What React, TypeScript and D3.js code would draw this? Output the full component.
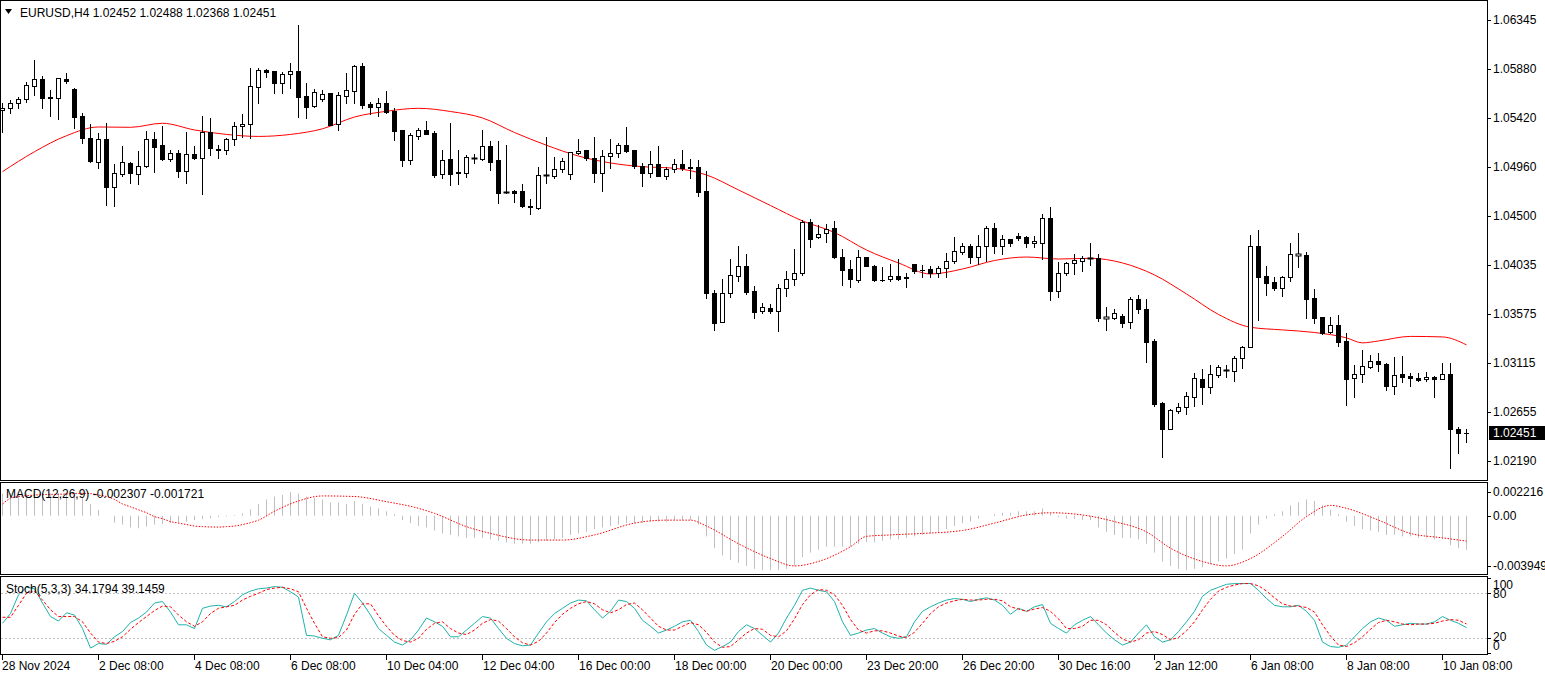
import React from "react";
import * as d3 from "d3";

const OPEN = [1.05497,1.05516,1.05563,1.05600,1.05723,1.05789,1.05619,1.05610,1.05789,1.05695,1.05440,1.05234,1.05007,1.05224,1.04772,1.04894,1.04998,1.04894,1.04969,1.05224,1.05168,1.05035,1.05092,1.04923,1.05082,1.05045,1.05290,1.05130,1.05120,1.05224,1.05346,1.05365,1.05714,1.05874,1.05865,1.05752,1.05836,1.05865,1.05628,1.05534,1.05600,1.05657,1.05365,1.05628,1.05676,1.05911,1.05553,1.05525,1.05563,1.05488,1.05309,1.05026,1.05252,1.05309,1.05281,1.04894,1.05035,1.04913,1.04904,1.05045,1.05035,1.05158,1.05026,1.04721,1.04735,1.04735,1.04592,1.04574,1.04880,1.04875,1.04941,1.04894,1.05092,1.05120,1.05045,1.04904,1.05063,1.05092,1.05168,1.05120,1.04969,1.04904,1.04988,1.04875,1.04941,1.04988,1.04957,1.04960,1.04735,1.03774,1.03500,1.03774,1.03933,1.04027,1.03793,1.03604,1.03636,1.03604,1.03821,1.03905,1.03962,1.04442,1.04301,1.04339,1.04386,1.04112,1.03999,1.03896,1.04112,1.04027,1.03900,1.03905,1.03933,1.03919,1.04046,1.03990,1.03999,1.03962,1.04008,1.04075,1.04159,1.04216,1.04112,1.04216,1.04386,1.04216,1.04282,1.04310,1.04301,1.04245,1.04245,1.04480,1.03793,1.03962,1.04056,1.04075,1.04098,1.04103,1.03538,1.03538,1.03557,1.03500,1.03717,1.03622,1.03321,1.02737,1.02492,1.02662,1.02699,1.02794,1.02963,1.02888,1.03001,1.03043,1.03039,1.03161,1.03265,1.04216,1.03933,1.03877,1.03821,1.03924,1.04135,1.04131,1.03727,1.03547,1.03406,1.03472,1.03321,1.02973,1.03010,1.03076,1.03133,1.03104,1.02898,1.03010,1.02992,1.02973,1.02963,1.02982,1.02963,1.03010,1.02492,1.02452];
const HIGH = [1.05563,1.05591,1.05619,1.05761,1.05968,1.05817,1.05685,1.05799,1.05846,1.05705,1.05469,1.05365,1.05281,1.05375,1.04988,1.05158,1.05007,1.05111,1.05300,1.05290,1.05346,1.05120,1.05120,1.05290,1.05158,1.05440,1.05422,1.05168,1.05234,1.05384,1.05459,1.05893,1.05893,1.05883,1.05865,1.05855,1.05940,1.06298,1.05752,1.05695,1.05685,1.05657,1.05666,1.05846,1.05921,1.05940,1.05572,1.05610,1.05676,1.05516,1.05309,1.05281,1.05328,1.05394,1.05300,1.05120,1.05375,1.05120,1.05073,1.05082,1.05309,1.05206,1.05206,1.05168,1.04744,1.04800,1.04659,1.04960,1.05243,1.05054,1.05045,1.05101,1.05224,1.05120,1.05243,1.05120,1.05224,1.05187,1.05337,1.05120,1.04998,1.05111,1.05158,1.04960,1.05035,1.05120,1.05035,1.05026,1.04923,1.03802,1.03905,1.04093,1.04216,1.04140,1.03839,1.03679,1.03670,1.03858,1.03981,1.04188,1.04461,1.04470,1.04414,1.04423,1.04452,1.04188,1.04084,1.04178,1.04115,1.04037,1.04018,1.04046,1.04093,1.03962,1.04046,1.04037,1.04027,1.04027,1.04150,1.04301,1.04245,1.04235,1.04320,1.04405,1.04433,1.04320,1.04282,1.04339,1.04310,1.04310,1.04517,1.04583,1.04065,1.04065,1.04140,1.04122,1.04245,1.04140,1.03641,1.03622,1.03576,1.03736,1.03755,1.03717,1.03340,1.02746,1.02680,1.02737,1.02841,1.03020,1.03057,1.03095,1.03095,1.03095,1.03180,1.03274,1.04320,1.04367,1.04027,1.03924,1.03933,1.04245,1.04339,1.04159,1.03811,1.03550,1.03547,1.03566,1.03397,1.03095,1.03236,1.03189,1.03208,1.03114,1.03170,1.03180,1.03020,1.03020,1.03029,1.02992,1.03114,1.03114,1.02511,1.02488];
const LOW = [1.05290,1.05469,1.05516,1.05572,1.05638,1.05516,1.05440,1.05412,1.05752,1.05328,1.05187,1.05007,1.04951,1.04602,1.04592,1.04875,1.04810,1.04800,1.04960,1.04913,1.05026,1.05017,1.04866,1.04810,1.05035,1.04706,1.05073,1.05045,1.05082,1.05168,1.05243,1.05234,1.05563,1.05808,1.05657,1.05657,1.05705,1.05431,1.05422,1.05525,1.05582,1.05356,1.05309,1.05563,1.05563,1.05516,1.05459,1.05440,1.05469,1.05215,1.04969,1.04988,1.05224,1.05271,1.04866,1.04857,1.04791,1.04800,1.04866,1.04998,1.05026,1.04932,1.04621,1.04716,1.04630,1.04583,1.04517,1.04565,1.04810,1.04857,1.04913,1.04847,1.05082,1.05026,1.04819,1.04735,1.04951,1.05054,1.05101,1.04951,1.04781,1.04866,1.04875,1.04847,1.04913,1.04932,1.04857,1.04687,1.03727,1.03425,1.03500,1.03736,1.03887,1.03764,1.03538,1.03585,1.03585,1.03415,1.03745,1.03849,1.03943,1.04207,1.04292,1.04254,1.04105,1.03849,1.03830,1.03877,1.04024,1.03887,1.03887,1.03887,1.03896,1.03830,1.03962,1.03924,1.03924,1.03924,1.03924,1.04056,1.04140,1.04056,1.04046,1.04075,1.04150,1.04140,1.04216,1.04273,1.04207,1.04207,1.04093,1.03707,1.03736,1.03943,1.03952,1.03980,1.04037,1.03510,1.03425,1.03528,1.03453,1.03444,1.03585,1.03123,1.02709,1.02228,1.02487,1.02643,1.02633,1.02709,1.02727,1.02832,1.02982,1.02982,1.02945,1.03067,1.03260,1.03519,1.03755,1.03802,1.03745,1.03887,1.04018,1.03538,1.03491,1.03387,1.03397,1.03274,1.02718,1.02794,1.02935,1.03067,1.03039,1.02860,1.02822,1.02935,1.02898,1.02945,1.02945,1.02794,1.02960,1.02125,1.02266,1.02368];
const CLOSE = [1.05516,1.05563,1.05600,1.05733,1.05789,1.05610,1.05610,1.05799,1.05771,1.05431,1.05234,1.05017,1.05224,1.04772,1.04904,1.05007,1.04904,1.04969,1.05224,1.05149,1.05035,1.05092,1.04923,1.05082,1.05045,1.05290,1.05140,1.05120,1.05224,1.05346,1.05365,1.05723,1.05874,1.05855,1.05752,1.05836,1.05865,1.05619,1.05525,1.05666,1.05647,1.05356,1.05638,1.05685,1.05911,1.05544,1.05525,1.05563,1.05478,1.05300,1.05026,1.05262,1.05309,1.05271,1.04885,1.05026,1.04894,1.04904,1.05054,1.05046,1.05158,1.05007,1.04716,1.04725,1.04716,1.04592,1.04583,1.04885,1.04885,1.04941,1.05017,1.05101,1.05111,1.05045,1.04904,1.05063,1.05092,1.05168,1.05111,1.04969,1.04904,1.04988,1.04875,1.04941,1.04988,1.04951,1.04952,1.04725,1.03774,1.03491,1.03774,1.03943,1.04027,1.03783,1.03594,1.03641,1.03607,1.03821,1.03905,1.03962,1.04442,1.04282,1.04329,1.04376,1.04112,1.03990,1.03905,1.04112,1.04027,1.03896,1.03896,1.03933,1.03905,1.03915,1.03980,1.03985,1.03962,1.04008,1.04075,1.04169,1.04216,1.04112,1.04216,1.04386,1.04216,1.04282,1.04245,1.04292,1.04245,1.04264,1.04480,1.03793,1.03962,1.04056,1.04084,1.04103,1.04100,1.03538,1.03543,1.03585,1.03491,1.03717,1.03622,1.03312,1.02727,1.02492,1.02671,1.02699,1.02803,1.02973,1.02888,1.03010,1.03076,1.03048,1.03161,1.03265,1.04216,1.03924,1.03868,1.03821,1.03924,1.04140,1.04142,1.03717,1.03538,1.03397,1.03472,1.03312,1.02963,1.03010,1.03085,1.03133,1.03104,1.02898,1.03001,1.02982,1.02973,1.02954,1.02982,1.02963,1.03010,1.02492,1.02450,1.02451];

const MA_BARS = [0,4,8,12,16,20,24,28,32,36,40,44,48,52,56,60,64,68,72,76,80,84,88,92,96,100,104,108,112,116,120,124,128,132,136,140,144,148,152,156,160,164,168,170,172,176,180,183];
const MA_VALUES = [1.04916,1.05104,1.05255,1.05337,1.05334,1.05372,1.05309,1.05267,1.05248,1.05267,1.05320,1.05431,1.05485,1.05513,1.05483,1.05422,1.05285,1.05165,1.05063,1.04998,1.04963,1.04948,1.04885,1.04744,1.04597,1.04452,1.04343,1.04178,1.04056,1.03952,1.03999,1.04079,1.04112,1.04093,1.04100,1.04056,1.03943,1.03764,1.03571,1.03450,1.03425,1.03401,1.03350,1.03303,1.03321,1.03364,1.03359,1.03284];

const MACD_MAIN = [0.0015,0.0015,0.0015,0.0015,0.0016,0.0015,0.0015,0.0015,0.0015,0.0014,0.0012,0.0008,0.0004,0.0000,-0.00047,-0.0006,-0.0008,-0.00085,-0.00074,-0.0006,-0.00056,-0.0005,-0.00047,-0.0004,-0.0003,-0.00024,-0.00018,-0.0001,-0.00006,0.00005,0.00016,0.00043,0.0008,0.0011,0.0013,0.0014,0.0016,0.0015,0.0013,0.0012,0.0011,0.0009,0.0009,0.0008,0.0010,0.0008,0.0006,0.0005,0.0003,0.0001,-0.0003,-0.0005,-0.0007,-0.0008,-0.0010,-0.0012,-0.0013,-0.0014,-0.0015,-0.0015,-0.0015,-0.0016,-0.0017,-0.0018,-0.0019,-0.0019,-0.0019,-0.0018,-0.0017,-0.0016,-0.0015,-0.0013,-0.0012,-0.0011,-0.0009,-0.0008,-0.0007,-0.0006,-0.0005,-0.0005,-0.0005,-0.0004,-0.0004,-0.0004,-0.0003,-0.0003,-0.0003,-0.0006,-0.0014,-0.0022,-0.0027,-0.0030,-0.0032,-0.0034,-0.0036,-0.0037,-0.0037,-0.0037,-0.0036,-0.0034,-0.0028,-0.0025,-0.0023,-0.0021,-0.0021,-0.0021,-0.0021,-0.0019,-0.0018,-0.0018,-0.0017,-0.0016,-0.0016,-0.0015,-0.0014,-0.0013,-0.0012,-0.0011,-0.0009,-0.0007,-0.0005,-0.0004,-0.0002,0.0000,0.0001,0.0002,0.0002,0.0003,0.0003,0.0003,0.0005,0.0002,-0.0001,-0.0002,-0.0002,-0.0003,-0.0003,-0.0008,-0.0011,-0.0013,-0.0015,-0.0015,-0.0016,-0.0019,-0.0025,-0.0031,-0.0034,-0.0036,-0.0037,-0.0036,-0.0035,-0.0033,-0.0031,-0.0029,-0.0026,-0.0023,-0.0012,-0.0006,-0.0002,0.0001,0.0003,0.0007,0.0009,0.0011,0.0010,0.0007,0.0004,0.0001,-0.0004,-0.0007,-0.0009,-0.0010,-0.0011,-0.0013,-0.0013,-0.0014,-0.0014,-0.0015,-0.0015,-0.0016,-0.0016,-0.0020,-0.0022,-0.002307];
const MACD_SIGNAL_BARS = [0,1,2,4,8,10,11,12,13,14,15,16,17,18,19,20,21,22,23,24,25,27,28,29,30,31,32,34,37,40,44,48,52,54,58,61,66,70,74,79,83,86,88,92,96,99,102,106,108,111,115,120,124,128,131,135,139,143,146,150,153,156,160,163,166,168,172,176,180,183];
const MACD_SIGNAL_VALUES = [0.00079,0.00118,0.0013,0.0014,0.00147,0.00152,0.0015,0.0014,0.0013,0.0011,0.0008,0.0006,0.0004,0.0002,-0.00006,-0.0002,-0.0004,-0.0005,-0.0006,-0.0007,-0.00074,-0.00077,-0.00074,-0.0007,-0.0006,-0.00047,-0.0003,0.0003,0.001,0.00134,0.0013,0.00095,0.0005,0.00016,-0.00074,-0.0012,-0.00165,-0.00165,-0.0013,-0.0005,-0.0003,-0.0003,-0.0007,-0.0019,-0.0029,-0.0034,-0.0031,-0.0021,-0.0014,-0.0013,-0.0012,-0.001,-0.0005,0.00005,0.0002,0.00005,-0.0004,-0.0011,-0.0022,-0.0031,-0.0034,-0.0029,-0.0014,-0.00006,0.0007,0.0005,-0.0003,-0.0012,-0.0015,-0.001721];

const STOCH_MAIN = [40,53,78,88,86,67,49,43,54,51,33,7,13,12,22,29,41,47,55,67,69,55,38,38,33,60,63,64,62,69,78,83,86,87,89,88,82,75,24,23,20,18,24,51,80,67,51,33,24,15,11,18,31,47,42,36,22,22,31,40,49,47,33,20,13,10,11,27,42,53,60,67,71,70,58,47,56,71,69,60,44,36,27,31,36,42,44,29,11,4,9,15,29,38,33,24,15,27,47,64,84,87,84,82,69,42,24,27,31,33,27,22,20,22,42,56,62,67,71,73,72,69,72,74,71,64,52,60,56,62,65,40,33,27,38,44,49,38,27,18,11,15,27,38,22,15,18,29,42,56,76,84,88,92,93,93,93,84,73,64,62,62,64,56,44,15,9,8,11,22,33,42,47,44,36,38,40,39,39,42,49,44,40,34.1794];
const STOCH_SIGNAL = [48,48,64,80,83,71,58,49,49,49,42,27,15,13,16,22,32,41,49,57,63,62,51,42,36,42,53,60,62,64,71,76,80,85,87,88,86,82,60,40,22,20,21,31,52,66,66,50,36,24,17,15,20,32,40,42,33,27,25,31,40,45,43,33,22,14,11,16,27,41,52,60,66,69,66,58,54,58,65,67,58,47,36,31,31,36,41,38,28,15,8,9,18,27,33,32,24,22,30,46,65,78,85,84,78,64,45,31,27,30,30,27,23,21,28,40,53,62,67,70,72,71,71,72,72,70,62,59,56,59,61,56,46,33,33,36,44,44,38,28,19,15,18,27,29,25,18,21,30,42,58,72,83,88,91,93,93,90,83,74,66,63,63,61,55,38,23,11,9,14,22,32,41,44,42,39,38,39,39,40,43,45,44,39.1459];

const PRICE_TICKS = [1.06345,1.0588,1.0542,1.0496,1.045,1.04035,1.03575,1.03115,1.02655,1.0219];
const TIME_LABEL_BARS = [0,12,24,36,48,60,72,84,96,108,120,132,144,156,168,180];
const TIME_LABELS = ["28 Nov 2024","2 Dec 08:00","4 Dec 08:00","6 Dec 08:00","10 Dec 04:00","12 Dec 04:00","16 Dec 00:00","18 Dec 00:00","20 Dec 00:00","23 Dec 20:00","26 Dec 20:00","30 Dec 16:00","2 Jan 12:00","6 Jan 08:00","8 Jan 08:00","10 Jan 08:00"];

const W = 1545, H = 675;
const PW = 1488;
const FONT = "'Liberation Sans', Arial, sans-serif";

export default function App() {
  const n = CLOSE.length;
  const x = d3.scaleLinear().domain([0, n - 1]).range([2, 2 + 8 * (n - 1)]);
  const yP = d3.scaleLinear().domain([1.0219, 1.06345]).range([461, 20]);
  const yM = d3.scaleLinear().domain([-0.003949, 0.002216]).range([574, 483]);
  const yS = d3.scaleLinear().domain([0, 100]).range([653.3, 578.3]);

  const maLine = d3.line<number>().x((_, i) => x(MA_BARS[i]) + 0.5).y((v) => yP(v)).curve(d3.curveMonotoneX);
  const sigLine = d3.line<number>().x((_, i) => x(MACD_SIGNAL_BARS[i]) + 0.5).y((v) => yM(v)).curve(d3.curveMonotoneX);
  const stMain = d3.line<number>().x((_, i) => x(i) + 0.5).y((v) => yS(v));

  const last = CLOSE[n - 1];
  const lastY = Math.round(yP(last));

  return (
    <svg width={W} height={H} style={{ position: "fixed", left: 0, top: 0, background: "#fff", display: "block" }}
      fontFamily={FONT}>
      <defs>
        <clipPath id="cMain"><rect x={1} y={1} width={PW - 1} height={479} /></clipPath>
        <clipPath id="cMacd"><rect x={1} y={483} width={PW - 1} height={91} /></clipPath>
        <clipPath id="cSt"><rect x={1} y={577} width={PW - 1} height={77} /></clipPath>
      </defs>
      <rect x={0} y={0} width={W} height={H} fill="#fff" />

      {/* main panel */}
      <g clipPath="url(#cMain)">
        <path d={maLine(MA_VALUES) || ""} fill="none" stroke="#ff0000" strokeWidth={1} />
        {CLOSE.map((c, i) => {
          const o = OPEN[i];
          const cx = Math.round(x(i));
          const yh = Math.round(yP(HIGH[i]));
          const yl = Math.round(yP(LOW[i]));
          const yt = Math.round(yP(Math.max(o, c)));
          const yb = Math.round(yP(Math.min(o, c)));
          const bull = c > o;
          return (
            <g key={i}>
              <rect x={cx} y={yh} width={1} height={Math.max(1, yl - yh + 1)} fill="#000" />
              {bull && yb - yt >= 2 ? (
                <rect x={cx - 1.5} y={yt + 0.5} width={4} height={yb - yt} fill="#fff" stroke="#000" strokeWidth={1} />
              ) : (
                <rect x={cx - 2} y={yt} width={5} height={Math.max(1, yb - yt + 1)} fill={bull ? "#fff" : "#000"} stroke={bull ? "#000" : "none"} />
              )}
            </g>
          );
        })}
      </g>
      <rect x={0.5} y={0.5} width={PW - 1} height={480} fill="none" stroke="#000" />
      <polygon points="5,9 12,9 8.5,14" fill="#000" />
      <text x={20} y={17} fontSize={12} fill="#000">EURUSD,H4  1.02452 1.02488 1.02368 1.02451</text>

      {/* price axis */}
      {PRICE_TICKS.map((p) => (
        <g key={p}>
          <line x1={PW} x2={PW + 3} y1={Math.round(yP(p)) + 0.5} y2={Math.round(yP(p)) + 0.5} stroke="#000" />
          <text x={1493} y={yP(p) + 4} fontSize={12} fill="#000">{p.toFixed(5)}</text>
        </g>
      ))}
      <rect x={1489} y={lastY - 7} width={56} height={14} fill="#000" />
      <text x={1493} y={lastY + 4} fontSize={12} fill="#fff">{last.toFixed(5)}</text>

      {/* MACD panel */}
      <g clipPath="url(#cMacd)">
        {MACD_MAIN.map((v, i) => (
          <line key={i} x1={Math.round(x(i)) + 0.5} x2={Math.round(x(i)) + 0.5} y1={yM(0)} y2={yM(v)} stroke="#c0c0c0" strokeWidth={1} />
        ))}
        <path d={sigLine(MACD_SIGNAL_VALUES) || ""} fill="none" stroke="#ff0000" strokeWidth={1} strokeDasharray="1.5,1.5" />
      </g>
      <rect x={0.5} y={482.5} width={PW - 1} height={92} fill="none" stroke="#000" />
      <text x={6} y={498} fontSize={12} fill="#000">MACD(12,26,9) -0.002307 -0.001721</text>
      {[0.002216, 0, -0.003949].map((v, k) => {
        const yy = k === 0 ? 492 : k === 1 ? Math.round(yM(0)) : 566;
        const lbl = k === 0 ? "0.002216" : k === 1 ? "0.00" : "-0.003949";
        return (
          <g key={k}>
            <line x1={PW} x2={PW + 3} y1={yy + 0.5} y2={yy + 0.5} stroke="#000" />
            <text x={1493} y={yy + 4} fontSize={12} fill="#000">{lbl}</text>
          </g>
        );
      })}

      {/* Stochastic panel */}
      <g clipPath="url(#cSt)">
        {[80, 20].map((lv) => (
          <line key={lv} x1={1} x2={PW} y1={Math.round(yS(lv)) + 0.5} y2={Math.round(yS(lv)) + 0.5} stroke="#c0c0c0" strokeDasharray="2,2" />
        ))}
        <path d={stMain(STOCH_MAIN) || ""} fill="none" stroke="#20b2aa" strokeWidth={1} />
        <path d={stMain(STOCH_SIGNAL) || ""} fill="none" stroke="#ff0000" strokeWidth={1} strokeDasharray="3,2" />
      </g>
      <rect x={0.5} y={576.5} width={PW - 1} height={78} fill="none" stroke="#000" />
      <text x={6} y={593} fontSize={12} fill="#000">Stoch(5,3,3) 34.1794 39.1459</text>
      {[{ v: 100, lx: 1493, yy: 585 }, { v: 80, lx: 1493, yy: 594 }, { v: 20, lx: 1493, yy: 637 }, { v: 0, lx: 1493, yy: 646 }].map((t) => (
        <g key={t.v}>
          <line x1={PW} x2={PW + 3} y1={Math.round(yS(t.v)) + 0.5} y2={Math.round(yS(t.v)) + 0.5} stroke="#000" />
          <text x={t.lx} y={t.yy + 4} fontSize={12} fill="#000">{t.v}</text>
        </g>
      ))}

      {/* time axis */}
      {TIME_LABEL_BARS.map((b, k) => (
        <g key={b}>
          <line x1={Math.round(x(b)) + 0.5} x2={Math.round(x(b)) + 0.5} y1={655} y2={660} stroke="#000" />
          <text x={Math.round(x(b)) + (k === 0 ? 0 : 1)} y={670} fontSize={12} fill="#000">{TIME_LABELS[k]}</text>
        </g>
      ))}
    </svg>
  );
}
